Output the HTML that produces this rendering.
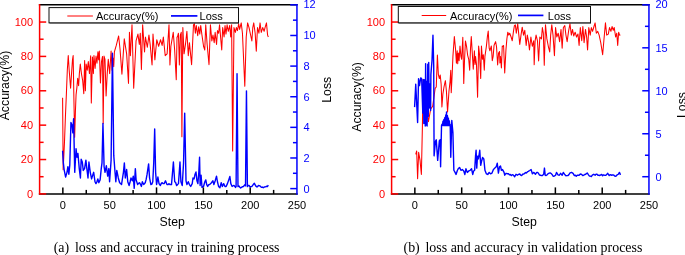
<!DOCTYPE html>
<html><head><meta charset="utf-8"><title>loss and accuracy</title>
<style>
html,body{margin:0;padding:0;background:#fff;}
svg{display:block;will-change:transform}
.t{font-family:"Liberation Sans",sans-serif;font-size:11px}
.a{font-family:"Liberation Sans",sans-serif;font-size:12.3px;fill:#000}
.l{font-family:"Liberation Sans",sans-serif;font-size:11px;fill:#000}
.c{font-family:"Liberation Serif",serif;font-size:13.93px;fill:#000}
</style></head><body>
<svg width="685" height="255" viewBox="0 0 685 255">
<rect width="685" height="255" fill="#fff"/>
<polyline points="62.60,97.66 63.16,169.84 64.48,142.34 65.42,116.56 66.37,94.22 67.31,70.16 68.25,55.55 69.19,70.16 70.60,88.20 71.55,73.60 72.49,59.85 73.15,55.55 73.90,99.38 74.65,137.19 75.41,111.41 76.06,94.91 76.91,87.34 77.67,78.24 78.61,85.63 79.36,73.60 80.30,63.97 81.43,73.60 82.66,80.47 83.79,93.70 84.63,60.53 85.39,90.78 86.14,63.97 87.27,70.16 88.31,61.56 89.44,73.60 90.66,55.72 91.32,102.98 92.45,56.92 93.39,73.60 93.96,55.55 95.09,68.44 96.03,56.07 96.97,63.28 97.91,51.77 98.66,59.85 99.32,51.08 100.45,82.88 101.49,61.56 102.52,56.41 103.18,123.44 104.03,56.07 104.97,59.33 106.10,95.94 107.23,73.60 108.27,59.33 109.68,73.60 111.09,51.08 112.03,70.16 112.98,58.13 113.73,66.72 114.39,51.94 116.27,45.41 118.63,35.96 120.04,49.19 121.92,74.11 124.27,38.88 126.63,53.83 128.51,83.39 129.45,32.35 130.40,55.72 132.00,24.79 133.69,88.20 136.04,40.94 137.93,34.07 139.34,44.38 140.28,33.21 141.41,69.47 142.64,24.79 144.52,51.94 145.46,36.99 147.34,47.30 148.94,35.10 150.17,44.38 152.05,65.00 152.99,34.07 154.88,59.85 156.76,39.74 158.64,46.27 160.53,39.74 162.13,45.41 163.35,36.99 165.23,55.72 167.12,53.83 169.00,24.79 169.94,65.00 170.88,46.27 173.24,32.35 174.65,50.05 176.25,79.78 177.00,36.99 177.48,36.99 178.42,33.21 179.36,65.00 180.30,35.10 181.24,32.35 181.90,136.67 182.84,27.54 184.07,53.83 185.48,44.38 186.89,31.32 188.30,55.72 189.43,42.66 191.60,64.66 193.48,24.79 194.42,23.75 195.37,33.21 196.31,25.47 197.72,35.79 198.66,26.68 199.79,34.07 200.73,25.47 201.96,35.10 203.56,46.27 204.78,50.05 205.72,24.79 207.14,44.38 209.02,64.66 210.43,24.79 211.84,40.94 212.97,35.10 214.20,42.66 215.14,32.35 216.55,44.38 217.49,30.63 218.62,33.21 219.56,24.79 220.79,39.22 221.73,50.05 222.67,27.54 224.08,36.99 225.03,25.47 225.97,34.07 227.10,24.79 228.32,31.32 229.73,25.47 230.68,36.99 231.62,24.79 232.65,150.93 233.97,27.54 235.38,32.35 236.33,27.54 237.46,30.63 238.68,23.75 239.62,29.43 241.22,22.90 242.45,33.21 244.80,86.31 246.21,36.99 247.62,22.90 249.04,27.54 250.64,35.10 251.86,40.94 252.80,27.54 253.74,22.90 255.16,33.21 256.29,51.25 257.51,27.54 258.92,33.21 260.05,22.90 261.28,32.35 262.69,27.54 264.10,31.32 265.04,27.54 266.46,22.90 267.59,35.10 268.34,36.99" fill="none" stroke="#ff0000" stroke-width="1.05" stroke-linejoin="round"/>
<polyline points="62.60,150.70 63.36,162.93 64.12,169.52 65.63,177.04 66.96,172.34 67.90,166.70 68.85,174.22 69.80,164.81 70.94,122.48 72.07,125.30 72.83,132.83 73.59,118.72 74.73,172.34 76.05,148.82 77.00,157.29 77.95,153.53 79.27,168.58 80.41,177.98 81.17,159.17 82.30,161.99 83.25,170.46 84.58,168.58 85.90,160.11 86.85,168.58 87.99,177.98 88.93,161.99 90.26,172.34 91.59,178.92 92.72,175.16 93.67,172.34 95.00,181.75 95.94,183.63 96.89,181.84 97.84,178.92 98.79,182.69 100.11,179.87 101.25,168.58 102.01,162.93 102.95,123.42 104.09,166.70 105.04,172.34 106.36,165.75 107.69,176.10 108.83,168.58 109.59,181.75 111.10,160.11 112.43,53.25 113.75,155.41 114.89,170.46 115.84,181.75 116.78,170.46 118.30,177.98 119.63,182.69 120.57,183.53 121.52,184.57 123.42,172.34 124.36,162.93 125.31,177.98 126.64,169.52 127.77,181.75 129.10,185.51 130.05,182.03 130.99,177.98 132.32,180.81 133.27,176.10 134.21,188.33 135.35,168.58 136.11,179.87 137.62,184.57 138.57,183.41 139.52,182.69 140.47,184.30 141.41,186.45 142.36,181.75 143.69,184.57 145.20,182.69 146.15,179.39 147.10,174.22 148.61,163.87 149.56,177.98 150.89,184.57 151.83,184.20 152.78,181.75 153.73,162.93 154.68,129.07 155.62,172.34 156.57,184.57 157.90,177.04 159.03,183.63 160.36,185.51 161.31,183.37 162.25,182.69 163.20,183.67 164.15,183.63 165.48,180.81 166.99,184.57 167.94,184.67 168.89,183.63 169.83,184.57 171.51,184.57 173.39,161.99 174.71,181.75 175.65,182.57 176.59,185.51 177.53,184.63 178.47,183.63 179.98,161.99 180.92,181.75 182.24,185.51 183.56,162.93 184.69,113.08 186.01,180.81 186.95,184.57 188.27,181.75 189.40,184.57 190.71,186.45 192.22,183.63 192.97,177.98 194.10,178.92 195.05,174.22 195.99,171.96 196.93,180.81 197.87,183.63 198.81,172.34 199.57,157.29 200.13,185.51 201.07,175.16 202.01,187.39 203.52,186.45 204.84,181.75 205.78,179.87 206.72,184.57 207.66,186.45 208.60,184.79 209.55,184.57 210.49,183.68 211.43,182.69 212.94,180.81 213.88,184.57 215.20,180.81 216.51,176.10 217.46,181.75 218.59,186.45 219.90,187.77 221.22,182.69 222.35,186.45 223.67,183.63 224.99,186.45 226.12,186.45 227.44,183.63 228.75,179.87 229.88,176.48 230.83,183.63 232.14,186.45 233.09,185.68 234.03,185.51 235.53,187.39 236.10,186.64 237.04,73.75 237.98,186.64 238.92,185.89 239.68,187.01 240.62,187.95 241.56,187.39 242.50,186.63 243.44,186.45 244.95,184.57 245.52,185.89 246.46,90.88 247.40,186.64 248.34,185.51 249.19,185.47 250.03,187.01 250.98,186.68 251.92,186.45 253.24,184.57 254.37,183.25 255.68,185.89 257.00,187.01 258.51,185.51 260.02,185.89 261.33,187.39 262.28,187.06 263.22,187.77 264.16,187.02 265.10,187.01 266.42,186.26 267.36,186.63 268.30,185.13" fill="none" stroke="#0000ff" stroke-width="1.4" stroke-linejoin="round"/>
<line x1="38.85" y1="4.85" x2="297.70" y2="4.85" stroke="#000" stroke-width="1.5"/>
<line x1="38.85" y1="193.90" x2="297.70" y2="193.90" stroke="#000" stroke-width="1.5"/>
<line x1="39.60" y1="4.10" x2="39.60" y2="194.65" stroke="#ff0000" stroke-width="1.5"/>
<line x1="296.95" y1="4.10" x2="296.95" y2="194.65" stroke="#0000ff" stroke-width="1.5"/>
<line x1="39.60" y1="193.90" x2="46.20" y2="193.90" stroke="#ff0000" stroke-width="1.5"/>
<text x="33.10" y="197.60" text-anchor="end" fill="#ff0000" class="t">0</text>
<line x1="39.60" y1="176.71" x2="43.60" y2="176.71" stroke="#ff0000" stroke-width="1.5"/>
<line x1="39.60" y1="159.53" x2="46.20" y2="159.53" stroke="#ff0000" stroke-width="1.5"/>
<text x="33.10" y="163.23" text-anchor="end" fill="#ff0000" class="t">20</text>
<line x1="39.60" y1="142.34" x2="43.60" y2="142.34" stroke="#ff0000" stroke-width="1.5"/>
<line x1="39.60" y1="125.15" x2="46.20" y2="125.15" stroke="#ff0000" stroke-width="1.5"/>
<text x="33.10" y="128.85" text-anchor="end" fill="#ff0000" class="t">40</text>
<line x1="39.60" y1="107.97" x2="43.60" y2="107.97" stroke="#ff0000" stroke-width="1.5"/>
<line x1="39.60" y1="90.78" x2="46.20" y2="90.78" stroke="#ff0000" stroke-width="1.5"/>
<text x="33.10" y="94.48" text-anchor="end" fill="#ff0000" class="t">60</text>
<line x1="39.60" y1="73.60" x2="43.60" y2="73.60" stroke="#ff0000" stroke-width="1.5"/>
<line x1="39.60" y1="56.41" x2="46.20" y2="56.41" stroke="#ff0000" stroke-width="1.5"/>
<text x="33.10" y="60.11" text-anchor="end" fill="#ff0000" class="t">80</text>
<line x1="39.60" y1="39.22" x2="43.60" y2="39.22" stroke="#ff0000" stroke-width="1.5"/>
<line x1="39.60" y1="22.04" x2="46.20" y2="22.04" stroke="#ff0000" stroke-width="1.5"/>
<text x="33.10" y="25.74" text-anchor="end" fill="#ff0000" class="t">100</text>
<line x1="62.85" y1="193.90" x2="62.85" y2="187.40" stroke="#000" stroke-width="1.5"/>
<text x="62.85" y="209.40" text-anchor="middle" fill="#000" class="t">0</text>
<line x1="86.27" y1="193.90" x2="86.27" y2="189.90" stroke="#000" stroke-width="1.5"/>
<line x1="109.69" y1="193.90" x2="109.69" y2="187.40" stroke="#000" stroke-width="1.5"/>
<text x="109.69" y="209.40" text-anchor="middle" fill="#000" class="t">50</text>
<line x1="133.11" y1="193.90" x2="133.11" y2="189.90" stroke="#000" stroke-width="1.5"/>
<line x1="156.53" y1="193.90" x2="156.53" y2="187.40" stroke="#000" stroke-width="1.5"/>
<text x="156.53" y="209.40" text-anchor="middle" fill="#000" class="t">100</text>
<line x1="179.95" y1="193.90" x2="179.95" y2="189.90" stroke="#000" stroke-width="1.5"/>
<line x1="203.37" y1="193.90" x2="203.37" y2="187.40" stroke="#000" stroke-width="1.5"/>
<text x="203.37" y="209.40" text-anchor="middle" fill="#000" class="t">150</text>
<line x1="226.79" y1="193.90" x2="226.79" y2="189.90" stroke="#000" stroke-width="1.5"/>
<line x1="250.21" y1="193.90" x2="250.21" y2="187.40" stroke="#000" stroke-width="1.5"/>
<text x="250.21" y="209.40" text-anchor="middle" fill="#000" class="t">200</text>
<line x1="273.63" y1="193.90" x2="273.63" y2="189.90" stroke="#000" stroke-width="1.5"/>
<text x="297.05" y="209.40" text-anchor="middle" fill="#000" class="t">250</text>
<line x1="296.95" y1="188.60" x2="290.25" y2="188.60" stroke="#0000ff" stroke-width="1.5"/>
<text x="303.45" y="192.50" text-anchor="start" fill="#0000ff" class="t">0</text>
<line x1="296.95" y1="173.29" x2="292.95" y2="173.29" stroke="#0000ff" stroke-width="1.5"/>
<line x1="296.95" y1="157.98" x2="290.25" y2="157.98" stroke="#0000ff" stroke-width="1.5"/>
<text x="303.45" y="161.88" text-anchor="start" fill="#0000ff" class="t">2</text>
<line x1="296.95" y1="142.66" x2="292.95" y2="142.66" stroke="#0000ff" stroke-width="1.5"/>
<line x1="296.95" y1="127.35" x2="290.25" y2="127.35" stroke="#0000ff" stroke-width="1.5"/>
<text x="303.45" y="131.25" text-anchor="start" fill="#0000ff" class="t">4</text>
<line x1="296.95" y1="112.04" x2="292.95" y2="112.04" stroke="#0000ff" stroke-width="1.5"/>
<line x1="296.95" y1="96.73" x2="290.25" y2="96.73" stroke="#0000ff" stroke-width="1.5"/>
<text x="303.45" y="100.63" text-anchor="start" fill="#0000ff" class="t">6</text>
<line x1="296.95" y1="81.41" x2="292.95" y2="81.41" stroke="#0000ff" stroke-width="1.5"/>
<line x1="296.95" y1="66.10" x2="290.25" y2="66.10" stroke="#0000ff" stroke-width="1.5"/>
<text x="303.45" y="70.00" text-anchor="start" fill="#0000ff" class="t">8</text>
<line x1="296.95" y1="50.79" x2="292.95" y2="50.79" stroke="#0000ff" stroke-width="1.5"/>
<line x1="296.95" y1="35.48" x2="290.25" y2="35.48" stroke="#0000ff" stroke-width="1.5"/>
<text x="303.45" y="39.38" text-anchor="start" fill="#0000ff" class="t">10</text>
<line x1="296.95" y1="20.16" x2="292.95" y2="20.16" stroke="#0000ff" stroke-width="1.5"/>
<line x1="296.95" y1="4.85" x2="290.25" y2="4.85" stroke="#0000ff" stroke-width="1.5"/>
<text x="303.45" y="7.95" text-anchor="start" fill="#0000ff" class="t">12</text>
<text transform="translate(9.30,85.50) rotate(-90)" text-anchor="middle" class="a">Accuracy(%)</text>
<text transform="translate(330.80,89.80) rotate(-90)" text-anchor="middle" class="a">Loss</text>
<text x="172.20" y="226.20" text-anchor="middle" class="a">Step</text>
<rect x="49.50" y="8.10" width="189.50" height="15.25" fill="#000"/>
<rect x="49.00" y="7.60" width="189.50" height="15.25" fill="#fff" stroke="#111" stroke-width="1"/>
<line x1="67.30" y1="16.00" x2="92.90" y2="16.00" stroke="#ff0000" stroke-width="1"/>
<text x="96.00" y="19.7" class="l">Accuracy(%)</text>
<line x1="171.00" y1="15.90" x2="197.40" y2="15.90" stroke="#0000ff" stroke-width="1.7"/>
<text x="199.60" y="19.7" class="l">Loss</text>
<text x="53.70" y="252.2" class="c">(a)</text>
<text x="75.00" y="252.2" class="c">loss and accuracy in training process</text><polyline points="415.73,154.37 416.67,150.93 417.61,178.78 418.65,152.31 419.31,156.09 420.06,160.39 420.44,164.68 421.38,174.48 422.42,125.15 423.07,79.27 424.02,94.22 424.96,87.34 425.90,107.97 427.31,113.12 428.44,121.72 430.61,109.17 432.68,106.25 434.09,96.28 435.13,88.38 436.26,87.00 437.39,55.03 438.33,74.28 439.36,78.58 440.21,74.97 441.15,84.25 441.91,106.94 442.85,94.22 443.98,87.00 445.39,80.64 446.43,91.30 447.56,111.92 448.97,91.30 450.10,81.33 450.76,70.16 451.23,92.67 452.17,74.28 452.92,56.41 454.34,36.64 455.56,49.36 456.41,63.28 457.16,50.74 457.73,63.80 458.38,52.97 459.14,60.71 459.99,45.93 460.93,56.41 461.68,59.33 462.81,37.33 463.75,83.39 464.50,60.71 465.45,40.94 466.58,46.61 467.61,55.03 468.74,59.33 469.68,70.16 470.53,47.99 471.28,36.64 472.23,52.28 473.26,69.30 474.39,50.74 475.05,64.49 475.52,56.41 476.46,64.14 477.59,97.14 478.63,45.93 479.57,55.03 480.70,78.58 481.45,45.93 482.40,59.33 483.34,54.69 484.28,70.16 484.94,56.41 486.35,46.61 487.39,36.64 488.23,30.97 489.17,47.99 489.93,50.74 491.34,45.93 492.28,60.71 493.13,56.41 494.07,45.24 495.58,41.63 496.52,46.61 497.65,65.00 498.59,52.97 499.53,51.43 499.91,62.94 500.47,56.41 501.42,67.92 502.26,45.93 503.30,46.61 503.58,45.41 504.71,73.08 505.94,50.05 506.88,38.88 507.82,32.18 508.76,35.10 509.70,33.21 511.11,36.99 512.24,40.77 513.47,31.32 514.41,25.65 515.35,24.79 516.29,33.21 517.71,23.75 518.84,35.10 519.78,44.38 521.00,35.10 522.22,27.19 523.54,35.10 524.77,30.29 526.18,45.41 527.31,35.10 528.53,41.63 529.48,50.05 530.89,36.99 532.30,46.27 533.71,40.77 534.18,64.66 535.12,40.94 536.07,35.10 537.48,40.77 538.61,60.88 539.83,36.99 541.43,38.88 542.38,27.54 543.32,33.21 544.26,65.17 545.48,24.79 546.89,38.88 548.31,46.27 549.72,51.94 550.66,35.10 551.79,24.79 553.02,35.10 554.43,55.72 555.56,27.54 556.78,36.99 558.19,33.21 559.61,41.63 561.02,29.43 562.15,48.16 563.37,27.54 564.79,25.65 565.92,35.10 567.14,41.63 568.55,31.32 569.96,23.75 571.38,35.10 572.51,29.43 573.73,35.96 575.14,32.18 576.56,36.99 577.97,34.07 579.10,45.41 580.32,27.54 581.73,40.77 582.86,26.50 584.09,42.66 585.50,29.43 586.63,36.99 587.57,50.05 588.80,27.54 590.21,35.10 591.34,27.54 592.56,31.32 593.97,26.50 595.10,22.90 596.33,33.21 597.74,31.32 599.15,35.10 600.75,42.66 602.64,54.69 603.86,40.77 605.46,22.72 606.69,35.10 608.29,34.07 609.51,27.54 610.92,31.32 612.05,26.50 613.28,30.29 614.22,27.54 615.63,36.99 616.76,33.21 617.70,45.41 618.64,32.18 619.59,35.10 620.34,35.10" fill="none" stroke="#ff0000" stroke-width="1.05" stroke-linejoin="round"/>
<polyline points="414.60,107.11 415.73,84.17 416.48,99.38 417.61,122.58 418.55,78.75 419.50,85.63 420.72,77.89 421.66,78.75 422.79,113.12 423.36,79.61 423.83,123.44 424.20,79.61 425.24,126.01 425.62,63.71 426.18,125.15 426.65,81.33 427.12,126.01 427.78,64.14 428.25,116.56 428.72,62.42 429.19,107.97 429.85,83.91 430.61,110.55 430.89,74.45 432.02,60.19 432.96,35.27 433.71,65.86 434.09,155.83 435.50,141.05 436.26,139.76 437.67,160.39 439.36,140.62 440.21,139.76 440.59,166.75 441.53,125.50 442.00,124.30 442.47,125.50 442.94,121.29 443.41,125.50 443.88,119.57 444.35,125.50 444.83,117.42 445.30,125.50 445.77,114.84 446.14,125.50 446.52,111.92 446.99,125.50 447.46,115.70 447.93,125.50 448.40,118.28 448.87,125.50 449.35,120.86 449.82,125.50 450.19,124.30 450.76,157.29 451.79,120.34 452.92,132.89 453.49,156.09 453.86,170.27 454.95,172.16 456.03,174.48 457.44,170.27 458.48,168.44 459.51,167.43 460.93,170.27 462.34,169.58 463.75,170.96 464.88,174.48 465.92,168.81 467.33,172.42 468.74,170.96 470.15,170.27 471.57,168.81 472.70,174.48 473.64,170.96 474.67,170.27 475.52,156.09 476.09,150.25 476.75,168.12 477.50,156.09 478.35,158.93 479.01,155.23 479.76,150.25 480.70,165.28 481.45,161.76 482.58,157.55 483.81,158.93 484.94,170.27 486.35,173.79 487.76,174.48 489.17,172.42 490.59,173.79 492.00,173.10 493.41,169.58 494.82,168.12 496.24,166.75 497.27,163.22 498.40,173.10 499.53,166.75 500.47,165.97 501.42,170.27 502.55,169.58 504.05,172.42 504.71,175.21 506.03,173.33 507.54,173.71 508.48,173.76 509.42,174.84 510.36,174.45 511.30,175.59 512.24,174.80 513.19,174.84 514.69,176.72 516.01,174.27 517.33,175.21 518.84,174.27 519.78,174.02 520.72,175.21 521.66,175.55 522.60,174.27 523.54,174.05 524.48,173.71 525.43,172.57 526.37,172.96 527.31,171.95 528.25,171.45 529.76,170.51 531.08,169.57 532.39,173.71 533.90,172.39 535.41,174.27 536.73,172.39 537.67,172.36 538.61,173.71 539.55,175.12 540.49,175.21 541.43,175.45 542.38,175.59 543.69,174.27 544.45,168.07 545.20,175.21 546.14,175.46 547.08,174.84 548.59,173.33 549.53,173.07 550.47,172.96 551.41,173.77 552.36,174.84 553.30,176.33 554.24,176.15 555.56,175.21 556.50,172.39 558.01,174.84 559.32,175.21 560.64,173.33 562.15,175.21 563.28,172.39 564.97,174.84 565.92,175.70 566.86,175.59 567.80,175.59 568.74,174.84 570.06,172.96 571.56,172.39 573.07,173.33 574.39,175.59 575.33,175.15 576.27,176.15 577.21,175.23 578.16,175.21 579.10,175.33 580.04,174.27 580.98,174.04 581.92,174.84 582.86,175.64 583.81,175.21 584.75,174.54 585.69,174.27 587.20,172.96 588.51,174.84 589.46,176.14 590.40,176.15 591.34,176.54 592.28,175.21 593.79,174.27 595.10,175.21 596.05,174.10 596.99,174.27 597.93,175.24 598.87,175.21 599.81,175.51 600.75,174.84 601.70,174.48 602.64,175.78 603.58,174.85 604.52,175.21 605.46,175.39 606.40,174.84 607.72,173.33 609.23,175.59 610.17,174.61 611.11,175.21 612.05,174.96 613.00,174.84 613.94,175.19 614.88,176.15 615.82,176.19 616.76,175.21 618.27,174.27 619.40,172.39 620.53,174.84" fill="none" stroke="#0000ff" stroke-width="1.4" stroke-linejoin="round"/>
<line x1="390.85" y1="4.85" x2="649.70" y2="4.85" stroke="#000" stroke-width="1.5"/>
<line x1="390.85" y1="193.90" x2="649.70" y2="193.90" stroke="#000" stroke-width="1.5"/>
<line x1="391.60" y1="4.10" x2="391.60" y2="194.65" stroke="#ff0000" stroke-width="1.5"/>
<line x1="648.95" y1="4.10" x2="648.95" y2="194.65" stroke="#0000ff" stroke-width="1.5"/>
<line x1="391.60" y1="193.90" x2="398.20" y2="193.90" stroke="#ff0000" stroke-width="1.5"/>
<text x="385.10" y="197.60" text-anchor="end" fill="#ff0000" class="t">0</text>
<line x1="391.60" y1="176.71" x2="395.60" y2="176.71" stroke="#ff0000" stroke-width="1.5"/>
<line x1="391.60" y1="159.53" x2="398.20" y2="159.53" stroke="#ff0000" stroke-width="1.5"/>
<text x="385.10" y="163.23" text-anchor="end" fill="#ff0000" class="t">20</text>
<line x1="391.60" y1="142.34" x2="395.60" y2="142.34" stroke="#ff0000" stroke-width="1.5"/>
<line x1="391.60" y1="125.15" x2="398.20" y2="125.15" stroke="#ff0000" stroke-width="1.5"/>
<text x="385.10" y="128.85" text-anchor="end" fill="#ff0000" class="t">40</text>
<line x1="391.60" y1="107.97" x2="395.60" y2="107.97" stroke="#ff0000" stroke-width="1.5"/>
<line x1="391.60" y1="90.78" x2="398.20" y2="90.78" stroke="#ff0000" stroke-width="1.5"/>
<text x="385.10" y="94.48" text-anchor="end" fill="#ff0000" class="t">60</text>
<line x1="391.60" y1="73.60" x2="395.60" y2="73.60" stroke="#ff0000" stroke-width="1.5"/>
<line x1="391.60" y1="56.41" x2="398.20" y2="56.41" stroke="#ff0000" stroke-width="1.5"/>
<text x="385.10" y="60.11" text-anchor="end" fill="#ff0000" class="t">80</text>
<line x1="391.60" y1="39.22" x2="395.60" y2="39.22" stroke="#ff0000" stroke-width="1.5"/>
<line x1="391.60" y1="22.04" x2="398.20" y2="22.04" stroke="#ff0000" stroke-width="1.5"/>
<text x="385.10" y="25.74" text-anchor="end" fill="#ff0000" class="t">100</text>
<line x1="414.85" y1="193.90" x2="414.85" y2="187.40" stroke="#000" stroke-width="1.5"/>
<text x="414.85" y="209.40" text-anchor="middle" fill="#000" class="t">0</text>
<line x1="438.27" y1="193.90" x2="438.27" y2="189.90" stroke="#000" stroke-width="1.5"/>
<line x1="461.69" y1="193.90" x2="461.69" y2="187.40" stroke="#000" stroke-width="1.5"/>
<text x="461.69" y="209.40" text-anchor="middle" fill="#000" class="t">50</text>
<line x1="485.11" y1="193.90" x2="485.11" y2="189.90" stroke="#000" stroke-width="1.5"/>
<line x1="508.53" y1="193.90" x2="508.53" y2="187.40" stroke="#000" stroke-width="1.5"/>
<text x="508.53" y="209.40" text-anchor="middle" fill="#000" class="t">100</text>
<line x1="531.95" y1="193.90" x2="531.95" y2="189.90" stroke="#000" stroke-width="1.5"/>
<line x1="555.37" y1="193.90" x2="555.37" y2="187.40" stroke="#000" stroke-width="1.5"/>
<text x="555.37" y="209.40" text-anchor="middle" fill="#000" class="t">150</text>
<line x1="578.79" y1="193.90" x2="578.79" y2="189.90" stroke="#000" stroke-width="1.5"/>
<line x1="602.21" y1="193.90" x2="602.21" y2="187.40" stroke="#000" stroke-width="1.5"/>
<text x="602.21" y="209.40" text-anchor="middle" fill="#000" class="t">200</text>
<line x1="625.63" y1="193.90" x2="625.63" y2="189.90" stroke="#000" stroke-width="1.5"/>
<text x="649.05" y="209.40" text-anchor="middle" fill="#000" class="t">250</text>
<line x1="648.95" y1="176.71" x2="642.25" y2="176.71" stroke="#0000ff" stroke-width="1.5"/>
<text x="655.45" y="180.61" text-anchor="start" fill="#0000ff" class="t">0</text>
<line x1="648.95" y1="155.23" x2="644.95" y2="155.23" stroke="#0000ff" stroke-width="1.5"/>
<line x1="648.95" y1="133.75" x2="642.25" y2="133.75" stroke="#0000ff" stroke-width="1.5"/>
<text x="655.45" y="137.65" text-anchor="start" fill="#0000ff" class="t">5</text>
<line x1="648.95" y1="112.26" x2="644.95" y2="112.26" stroke="#0000ff" stroke-width="1.5"/>
<line x1="648.95" y1="90.78" x2="642.25" y2="90.78" stroke="#0000ff" stroke-width="1.5"/>
<text x="655.45" y="94.68" text-anchor="start" fill="#0000ff" class="t">10</text>
<line x1="648.95" y1="69.30" x2="644.95" y2="69.30" stroke="#0000ff" stroke-width="1.5"/>
<line x1="648.95" y1="47.82" x2="642.25" y2="47.82" stroke="#0000ff" stroke-width="1.5"/>
<text x="655.45" y="51.72" text-anchor="start" fill="#0000ff" class="t">15</text>
<line x1="648.95" y1="26.33" x2="644.95" y2="26.33" stroke="#0000ff" stroke-width="1.5"/>
<line x1="648.95" y1="4.85" x2="642.25" y2="4.85" stroke="#0000ff" stroke-width="1.5"/>
<text x="655.45" y="7.95" text-anchor="start" fill="#0000ff" class="t">20</text>
<text transform="translate(360.60,96.90) rotate(-90)" text-anchor="middle" class="a">Accuracy(%)</text>
<text transform="translate(686.20,105.00) rotate(-90)" text-anchor="middle" class="a">Loss</text>
<text x="524.20" y="226.20" text-anchor="middle" class="a">Step</text>
<rect x="398.80" y="7.00" width="192.20" height="16.35" fill="#000"/>
<rect x="398.30" y="6.50" width="192.20" height="16.35" fill="#fff" stroke="#111" stroke-width="1"/>
<line x1="421.70" y1="15.50" x2="446.20" y2="15.50" stroke="#ff0000" stroke-width="1"/>
<text x="450.00" y="19.7" class="l">Accuracy(%)</text>
<line x1="518.00" y1="15.40" x2="543.40" y2="15.40" stroke="#0000ff" stroke-width="1.7"/>
<text x="547.80" y="19.7" class="l">Loss</text>
<text x="403.50" y="252.2" class="c">(b)</text>
<text x="425.50" y="252.2" class="c">loss and accuracy in validation process</text>
</svg></body></html>
